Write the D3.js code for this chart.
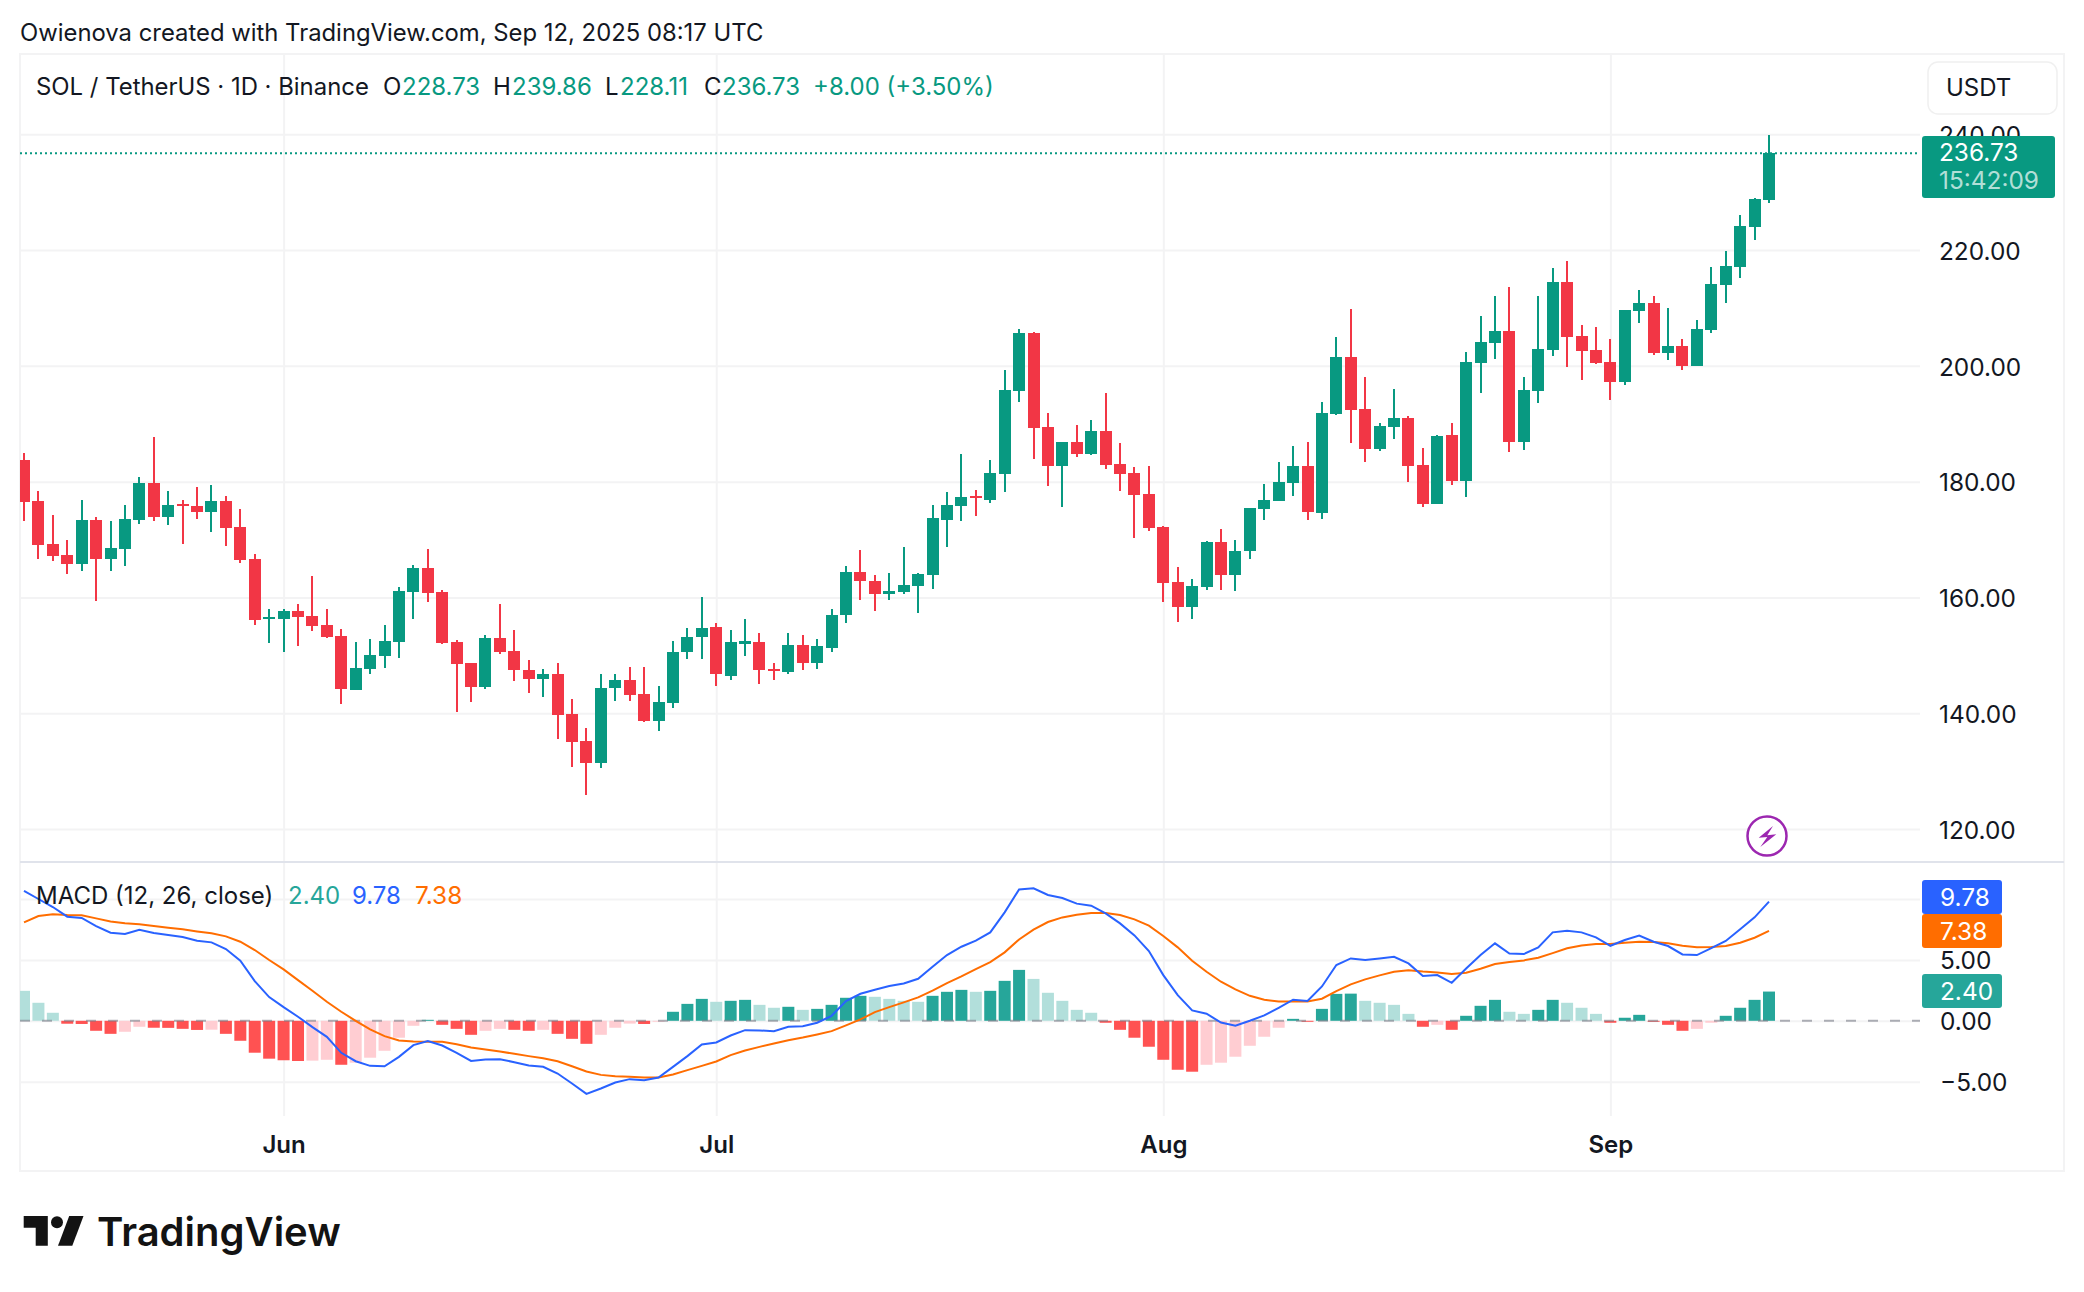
<!DOCTYPE html>
<html>
<head>
<meta charset="utf-8">
<title>SOL / TetherUS</title>
<script src="https://cdn.jsdelivr.net/npm/d3@7"></script>
<style>
	html, body { margin: 0; padding: 0; background: #ffffff; }
	svg { display: block; }
	text { font-family: Inter, "Noto Sans", sans-serif; }
	.domain { display: none; }
</style>
</head>
<body>
<svg id="chart" width="2084" height="1292"></svg>
<script>
var candleOpen = [183.75,176.66,169.23,167.32,165.77,173.37,166.63,168.36,173.37,179.77,173.89,176.14,175.79,174.76,176.66,172.16,166.63,156.26,156.26,157.64,156.78,155.22,153.32,143.99,147.62,149.86,152.29,160.93,165.08,160.93,152.29,148.66,144.51,152.98,150.73,147.55,145.99,146.86,139.94,135.28,131.47,144.27,145.82,143.4,138.73,141.85,150.49,153.08,154.81,146.51,152.04,152.22,147.72,147.2,151.7,148.59,151.35,156.88,164.32,162.76,160.51,160.86,161.9,163.8,173.31,175.8,177.53,176.84,181.33,195.68,205.71,189.46,182.72,186.86,184.79,188.77,183.06,181.51,177.88,172.17,162.66,158.34,161.8,169.58,163.87,168.02,175.28,176.67,179.78,182.72,174.59,191.7,201.56,192.57,185.65,189.46,191.01,182.89,176.15,188.07,180.12,200.42,203.87,205.95,186.93,195.58,202.66,214.42,205.08,202.66,200.59,197.13,209.4,210.79,202.14,203.35,199.9,206.12,213.9,217.01,223.92,228.73];
var candleHigh = [184.96,178.39,174.24,169.92,176.83,173.89,173.2,175.97,180.81,187.72,178.39,176.83,179.08,179.42,177.52,175.28,167.5,157.99,157.99,158.85,163.69,157.99,154.53,152.29,152.8,155.22,161.79,165.6,168.36,161.27,152.63,148.66,153.5,158.85,154.36,149.11,147.72,148.76,142.54,137.52,146.86,146.69,147.9,147.9,144.78,152.56,154.64,160.0,155.5,154.46,156.19,153.77,148.59,153.77,153.43,152.74,157.92,165.35,168.12,163.8,164.14,168.64,164.14,175.9,178.15,184.79,178.57,183.75,199.31,206.4,205.88,191.88,186.86,189.8,190.67,195.33,186.69,182.54,182.72,172.34,165.26,163.18,169.75,171.83,169.92,175.46,179.6,183.41,186.17,186.86,193.78,205.01,209.85,198.1,190.15,196.03,191.36,185.83,188.07,190.15,202.42,208.54,212.0,213.55,198.0,212.0,216.84,218.05,206.98,206.64,204.56,209.58,213.03,212.0,209.92,204.56,207.85,217.01,219.78,226.0,228.94,239.86];
var candleLow = [173.2,166.63,166.29,164.04,164.56,159.37,164.56,165.42,172.68,173.2,172.51,169.23,173.55,171.3,168.88,165.94,155.22,152.11,150.56,151.59,154.19,152.98,141.57,143.99,146.75,147.79,149.52,156.26,159.2,151.94,140.18,141.91,144.16,150.21,145.54,143.57,142.88,135.62,130.78,125.94,130.61,142.19,142.19,138.56,137.0,140.98,149.28,149.28,144.78,145.82,149.8,145.13,145.82,146.69,147.55,147.72,150.49,155.5,159.48,157.58,159.48,160.51,157.23,161.38,168.64,173.2,174.07,176.32,178.22,193.78,183.93,179.26,175.63,184.27,184.62,182.2,178.39,170.27,171.48,159.21,155.75,156.27,161.28,161.28,161.11,166.64,173.38,176.67,177.53,173.38,173.55,191.53,186.69,183.41,185.31,187.38,179.95,175.63,176.15,179.43,177.36,195.23,201.11,185.2,185.55,193.67,201.63,199.72,197.48,200.24,194.19,196.78,207.33,201.8,200.93,199.2,199.9,205.6,210.79,215.11,221.68,228.11];
var candleClose = [176.54,169.05,167.15,165.77,173.37,166.63,168.53,173.55,179.77,173.89,175.97,175.79,174.76,176.66,171.99,166.46,156.09,156.61,157.64,156.61,155.05,153.15,144.16,147.79,150.04,152.46,161.1,165.08,160.76,152.11,148.48,144.51,152.98,150.56,147.44,145.99,146.86,139.77,135.1,131.47,144.44,145.82,143.23,138.73,142.02,150.66,153.25,154.64,146.69,152.22,152.39,147.38,147.38,151.7,148.59,151.53,156.88,164.32,162.76,160.51,161.03,162.07,163.97,173.65,175.9,177.36,177.18,181.51,195.85,205.71,189.28,182.72,186.86,184.79,188.77,182.89,181.33,177.7,172.0,162.49,158.34,161.97,169.58,163.87,168.02,175.46,176.84,179.95,182.72,174.76,191.88,201.56,192.4,185.65,189.63,191.01,182.72,176.15,187.9,180.12,200.69,204.05,205.95,186.93,195.75,202.84,214.42,204.91,202.49,200.42,197.13,209.58,210.79,202.14,203.35,199.9,206.29,214.07,217.18,224.1,228.76,236.73];

var histogramValues = [2.46,1.48,0.66,-0.24,-0.26,-0.82,-1.07,-0.9,-0.49,-0.57,-0.58,-0.66,-0.75,-0.73,-1.07,-1.64,-2.62,-3.11,-3.24,-3.3,-3.27,-3.2,-3.61,-3.44,-3.03,-2.46,-1.39,-0.41,0.08,-0.33,-0.66,-1.15,-0.82,-0.66,-0.74,-0.82,-0.74,-1.07,-1.48,-1.89,-1.15,-0.57,-0.23,-0.26,-0.08,0.74,1.39,1.8,1.56,1.64,1.72,1.31,1.07,1.15,0.9,0.98,1.31,1.89,2.05,1.97,1.8,1.64,1.56,2.05,2.38,2.54,2.38,2.46,3.28,4.18,3.44,2.3,1.64,0.9,0.66,-0.16,-0.74,-1.39,-2.13,-3.2,-4.02,-4.18,-3.61,-3.44,-2.95,-2.05,-1.31,-0.57,0.16,-0.08,0.98,2.21,2.23,1.64,1.48,1.31,0.57,-0.49,-0.33,-0.74,0.41,1.23,1.72,0.74,0.57,0.9,1.72,1.48,1.07,0.57,-0.16,0.25,0.49,-0.08,-0.33,-0.82,-0.66,-0.16,0.41,1.07,1.72,2.4];
var macdValues = [10.66,10.0,9.34,8.55,8.44,7.78,7.23,7.12,7.48,7.21,7.04,6.88,6.58,6.44,5.89,4.93,3.26,1.95,1.12,0.33,-0.52,-1.32,-2.63,-3.32,-3.7,-3.73,-2.96,-2.0,-1.67,-2.03,-2.63,-3.29,-3.18,-3.15,-3.4,-3.67,-3.78,-4.33,-5.15,-6.0,-5.56,-5.07,-4.79,-4.88,-4.66,-3.78,-2.9,-1.95,-1.78,-1.21,-0.77,-0.79,-0.85,-0.49,-0.44,-0.16,0.41,1.62,2.22,2.55,2.85,3.07,3.45,4.44,5.4,6.08,6.58,7.26,8.9,10.79,10.88,10.33,10.08,9.62,9.45,8.82,8.0,7.01,5.73,3.75,2.11,0.85,0.58,-0.14,-0.41,0,0.44,1.07,1.73,1.62,2.82,4.58,5.12,4.99,5.12,5.26,4.71,3.67,3.75,3.12,4.3,5.4,6.36,5.53,5.48,6.03,7.26,7.4,7.26,6.85,6.16,6.63,6.99,6.49,6.14,5.45,5.4,5.97,6.55,7.51,8.49,9.78];
var signalValues = [8.08,8.6,8.74,8.68,8.66,8.41,8.16,8.0,7.92,7.78,7.64,7.51,7.34,7.18,6.93,6.49,5.81,4.99,4.22,3.34,2.47,1.56,0.74,0,-0.71,-1.26,-1.62,-1.7,-1.73,-1.73,-1.92,-2.19,-2.36,-2.52,-2.71,-2.9,-3.07,-3.32,-3.73,-4.16,-4.44,-4.55,-4.6,-4.66,-4.66,-4.41,-4.05,-3.7,-3.34,-2.82,-2.44,-2.14,-1.86,-1.59,-1.37,-1.12,-0.85,-0.38,0.11,0.71,1.12,1.51,1.92,2.47,3.1,3.64,4.25,4.82,5.62,6.68,7.48,8.11,8.49,8.71,8.85,8.85,8.68,8.33,7.81,6.96,6.03,4.93,4.03,3.21,2.58,2.05,1.73,1.59,1.59,1.59,1.81,2.44,2.99,3.4,3.73,4.03,4.16,4.05,3.97,3.84,3.95,4.27,4.66,4.82,4.96,5.18,5.56,5.95,6.19,6.3,6.3,6.41,6.49,6.47,6.36,6.16,6.03,6.05,6.14,6.41,6.82,7.38];

var priceTicks = [120, 140, 160, 180, 200, 220, 240];
var macdTicks = [-5, 0, 5, 10];
var monthTicks = [new Date(Date.UTC(2025, 5, 1)), new Date(Date.UTC(2025, 6, 1)), new Date(Date.UTC(2025, 7, 1)), new Date(Date.UTC(2025, 8, 1))];
var candleDates = d3.utcDay.range(new Date(Date.UTC(2025, 4, 14)), new Date(Date.UTC(2025, 8, 13)));

var green = '#089981', red = '#f23645';
var histColors = { upStrong: '#26a69a', upWeak: '#b2dfdb', downStrong: '#ff5252', downWeak: '#ffcdd2' };
var macdColor = '#2962ff', signalColor = '#ff6d00', inkColor = '#131722', gridColor = '#f3f3f4';

var plotLeft = 20, plotRight = 1920, frameRight = 2064, frameTop = 54, frameBottom = 1171, paneSplit = 862, timeAxisTop = 1116;

var x = d3.scaleUtc().domain([candleDates[0], candleDates[candleDates.length - 1]]).range([24, 1769]);
var yPrice = d3.scaleLinear().domain([120, 240]).range([829, 134.3]);
var yMacd = d3.scaleLinear().domain([-5, 10]).range([1081.7, 899]);

var svg = d3.select('#chart');

function addText(px, py, str, color, size, anchor, weight) {
	return svg.append('text')
		.attr('x', px)
		.attr('y', py)
		.attr('dominant-baseline', 'central')
		.attr('text-anchor', anchor || 'start')
		.attr('font-size', size)
		.attr('font-weight', weight || 400)
		.attr('fill', color)
		.text(str);
}

addText(20, 32, 'Owienova created with TradingView.com, Sep 12, 2025 08:17 UTC', inkColor, 23.85);

// frame and pane divider
svg.append('rect')
	.attr('x', plotLeft).attr('y', frameTop)
	.attr('width', frameRight - plotLeft).attr('height', frameBottom - frameTop)
	.attr('fill', 'none').attr('stroke', gridColor).attr('stroke-width', 2);

svg.append('defs').append('clipPath').attr('id', 'priceClip').append('rect')
	.attr('x', plotLeft).attr('y', frameTop).attr('width', plotRight - plotLeft).attr('height', paneSplit - frameTop);
svg.select('defs').append('clipPath').attr('id', 'macdClip').append('rect')
	.attr('x', plotLeft).attr('y', paneSplit).attr('width', plotRight - plotLeft).attr('height', timeAxisTop - paneSplit);

// grid comes from the axes, with the tick lines stretched over the plot
var gridY = svg.append('g');
gridY.append('g')
	.attr('transform', 'translate(' + plotLeft + ',0)')
	.call(d3.axisRight(yPrice).tickValues(priceTicks).tickSize(plotRight - plotLeft).tickFormat(''));
gridY.append('g')
	.attr('transform', 'translate(' + plotLeft + ',0)')
	.call(d3.axisRight(yMacd).tickValues(macdTicks).tickSize(plotRight - plotLeft).tickFormat(''));
gridY.append('g')
	.attr('transform', 'translate(0,' + timeAxisTop + ')')
	.call(d3.axisTop(x).tickValues(monthTicks).tickSize(timeAxisTop - frameTop).tickFormat(''));
gridY.selectAll('line').attr('stroke', gridColor).attr('stroke-width', 2);

svg.append('line')
	.attr('x1', plotLeft).attr('x2', frameRight)
	.attr('y1', paneSplit).attr('y2', paneSplit)
	.attr('stroke', '#e0e3eb').attr('stroke-width', 2);

// candles
var candleLayer = svg.append('g').attr('clip-path', 'url(#priceClip)').attr('shape-rendering', 'crispEdges');
var candleGroups = candleLayer.selectAll('g')
	.data(candleDates)
	.join('g')
	.attr('fill', function(d, i) { return candleClose[i] >= candleOpen[i] ? green : red; });

candleGroups.append('rect')
	.attr('x', function(d) { return Math.round(x(d)) - 1; })
	.attr('width', 2)
	.attr('y', function(d, i) { return yPrice(candleHigh[i]); })
	.attr('height', function(d, i) { return yPrice(candleLow[i]) - yPrice(candleHigh[i]); });

candleGroups.append('rect')
	.attr('x', function(d) { return Math.round(x(d)) - 6; })
	.attr('width', 12)
	.attr('y', function(d, i) { return yPrice(Math.max(candleOpen[i], candleClose[i])); })
	.attr('height', function(d, i) { return Math.max(2, Math.abs(yPrice(candleOpen[i]) - yPrice(candleClose[i]))); });

// last price line
svg.append('line')
	.attr('x1', plotLeft).attr('x2', plotRight)
	.attr('y1', yPrice(candleClose[candleClose.length - 1])).attr('y2', yPrice(candleClose[candleClose.length - 1]))
	.attr('stroke', green).attr('stroke-width', 2).attr('stroke-dasharray', '2 3');

// macd pane
var macdLayer = svg.append('g').attr('clip-path', 'url(#macdClip)');

macdLayer.selectAll('rect')
	.data(histogramValues)
	.join('rect')
	.attr('x', function(d, i) { return x(candleDates[i]) - 6; })
	.attr('width', 12)
	.attr('y', function(d) { return d >= 0 ? yMacd(d) : yMacd(0); })
	.attr('height', function(d) { return Math.abs(yMacd(d) - yMacd(0)); })
	.attr('fill', function(d, i) {
		var prev = i > 0 ? histogramValues[i - 1] : Infinity;
		if (d >= 0) return d >= prev ? histColors.upStrong : histColors.upWeak;
		return d < prev ? histColors.downStrong : histColors.downWeak;
	});

macdLayer.append('line')
	.attr('x1', plotLeft).attr('x2', plotRight)
	.attr('y1', yMacd(0)).attr('y2', yMacd(0))
	.attr('stroke', '#787b86').attr('stroke-opacity', 0.6).attr('stroke-width', 2).attr('stroke-dasharray', '10 12');

function drawLine(values, color) {
	var line = d3.line()
		.x(function(d, i) { return x(candleDates[i]); })
		.y(function(d) { return yMacd(d); });
	macdLayer.append('path')
		.attr('d', line(values))
		.attr('fill', 'none')
		.attr('stroke', color)
		.attr('stroke-width', 2);
}
drawLine(signalValues, signalColor);
drawLine(macdValues, macdColor);

// axes labels
var priceAxis = svg.append('g')
	.attr('transform', 'translate(1939,1.5)')
	.call(d3.axisRight(yPrice).tickValues(priceTicks).tickSize(0).tickPadding(0).tickFormat(d3.format('.2f')));
var macdAxis = svg.append('g')
	.attr('transform', 'translate(1940,1)')
	.call(d3.axisRight(yMacd).tickValues(macdTicks).tickSize(0).tickPadding(0).tickFormat(d3.format('.2f')));
var timeAxis = svg.append('g')
	.attr('transform', 'translate(0,1136)')
	.call(d3.axisBottom(x).tickValues(monthTicks).tickSize(0).tickPadding(0).tickFormat(d3.utcFormat('%b')));
[priceAxis, macdAxis, timeAxis].forEach(function(axis) {
	axis.selectAll('text')
		.attr('fill', inkColor)
		.attr('font-size', 24.4)
		.style('font-family', 'Inter, "Noto Sans", sans-serif');
});
timeAxis.selectAll('text').attr('font-size', 24).attr('font-weight', 600);

// legend
addText(36, 86, 'SOL / TetherUS · 1D · Binance', inkColor, 23.9);
addText(383, 86, 'O', inkColor, 24);
addText(402, 86, d3.format('.2f')(candleOpen[121]), green, 24);
addText(493, 86, 'H', inkColor, 24);
addText(512, 86, d3.format('.2f')(candleHigh[121]), green, 24);
addText(605, 86, 'L', inkColor, 24);
addText(620, 86, d3.format('.2f')(candleLow[121]), green, 24);
addText(704, 86, 'C', inkColor, 24);
addText(722, 86, d3.format('.2f')(candleClose[121]), green, 24);
addText(813, 86, '+8.00 (+3.50%)', green, 24);

addText(36, 895, 'MACD (12, 26, close)', inkColor, 24);
addText(288, 895, d3.format('.2f')(histogramValues[121]), histColors.upStrong, 24);
addText(352, 895, d3.format('.2f')(macdValues[121]), macdColor, 24);
addText(415, 895, d3.format('.2f')(signalValues[121]), signalColor, 24.4);

// currency box
svg.append('rect')
	.attr('x', 1928).attr('y', 62).attr('width', 129).attr('height', 52).attr('rx', 10)
	.attr('fill', '#ffffff').attr('stroke', '#f0f0f0').attr('stroke-width', 1.5);
addText(1946, 87, 'USDT', inkColor, 24);

// price tags
svg.append('rect').attr('x', 1922).attr('y', 136).attr('width', 133).attr('height', 62).attr('rx', 3).attr('fill', green);
addText(1939, 152, d3.format('.2f')(candleClose[121]), '#ffffff', 24.4);
addText(1939, 180, '15:42:09', 'rgba(255,255,255,0.7)', 24.4);

function macdTag(top, height, color, value) {
	svg.append('rect').attr('x', 1922).attr('y', top).attr('width', 80).attr('height', height).attr('rx', 3).attr('fill', color);
	addText(1940, top + height / 2, d3.format('.2f')(value), '#ffffff', 24.4);
}
macdTag(880, 34, macdColor, macdValues[121]);
macdTag(914, 34, signalColor, signalValues[121]);
macdTag(974, 34, histColors.upStrong, histogramValues[121]);

// lightning badge
var badge = svg.append('g').attr('transform', 'translate(1767,836)');
badge.append('circle').attr('r', 19.5).attr('fill', '#ffffff').attr('stroke', '#9c27b0').attr('stroke-width', 2.5);
badge.append('polygon').attr('points', '6,-10 -8.3,1.7 0.3,1 -6.7,11 9.3,-1.7 0.3,-0.7').attr('fill', '#9c27b0');

// logo
var logo = svg.append('g').attr('fill', '#131313');
logo.append('polygon').attr('points', '23.7,1216 47.8,1216 47.8,1245.7 35.7,1245.7 35.7,1227.7 23.7,1227.7');
logo.append('circle').attr('cx', 57).attr('cy', 1222.3).attr('r', 6);
logo.append('polygon').attr('points', '69.2,1216 83.5,1216 72.3,1245.7 58,1245.7');
logo.append('text')
	.attr('x', 97).attr('y', 1245.7)
	.attr('font-size', 40).attr('font-weight', 600)
	.text('TradingView');
</script>
</body>
</html>
